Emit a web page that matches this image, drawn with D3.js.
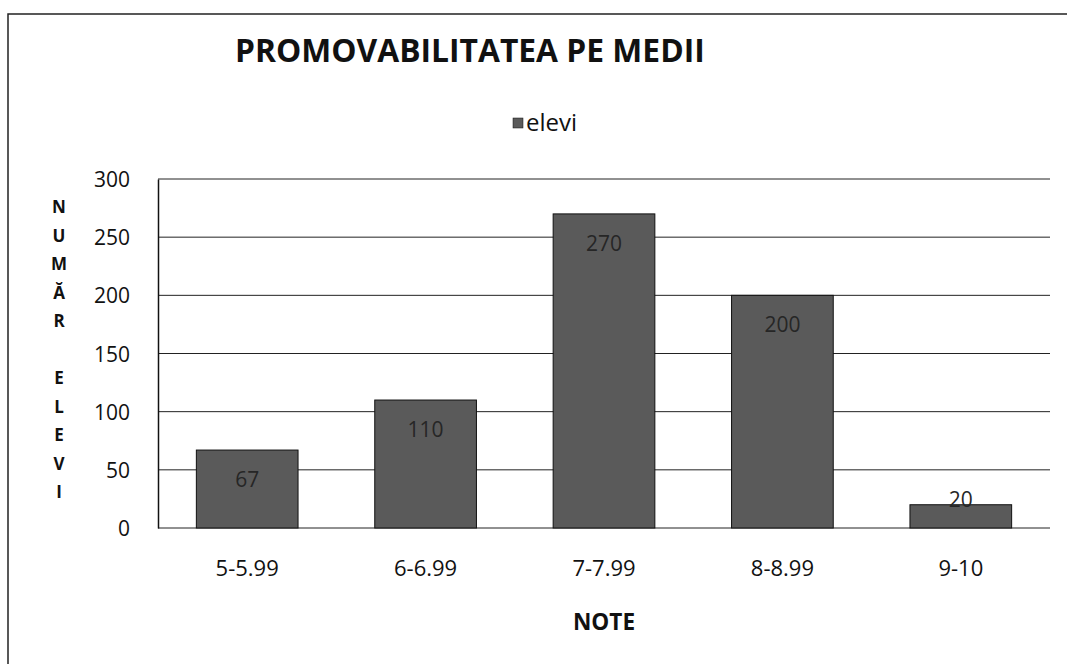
<!DOCTYPE html>
<html>
<head>
<meta charset="utf-8">
<script src="https://cdn.jsdelivr.net/npm/d3@7"></script>
<style>
  body { margin: 0; background: #fff; }
  text { font-family: "Open Sans", "Noto Sans", sans-serif; }
</style>
</head>
<body>
<div id="chart"></div>
<script>
/* Data */
const categories = ["5-5.99", "6-6.99", "7-7.99", "8-8.99", "9-10"];
const elevi = [67, 110, 270, 200, 20];
const yTicks = [0, 50, 100, 150, 200, 250, 300];
const yTitle = ["N", "U", "M", "Ă", "R", "", "E", "L", "E", "V", "I"];

/* Dimensions */
const width = 1067;
const height = 664;
const plot = { left: 158, right: 1050, top: 179, bottom: 528 };
const barColor = "#5a5a5a";

const svg = d3.select("#chart")
  .append("svg")
  .attr("width", width)
  .attr("height", height);

// scale a text's font size so it spans the wanted width
function fitWidth(sel, target) {
  const node = sel.node();
  const size = parseFloat(sel.style("font-size"));
  const w = node.getComputedTextLength();
  sel.style("font-size", (size * target / w).toFixed(1) + "px");
}

// outer frame (only top and left edges are visible in the scan)
svg.append("path")
  .attr("d", `M8,${height} L8,14 L${width},14`)
  .attr("fill", "none")
  .attr("stroke", "#222")
  .attr("stroke-width", 1.5);

/* Scales */
const x = d3.scaleBand()
  .domain(categories)
  .range([plot.left, plot.right])
  .paddingInner(0.43)
  .paddingOuter(0.215);

const y = d3.scaleLinear()
  .domain([0, 300])
  .range([plot.bottom, plot.top]);

// gridlines
svg.append("g")
  .selectAll("line")
  .data(yTicks)
  .enter()
  .append("line")
  .attr("x1", plot.left)
  .attr("x2", plot.right)
  .attr("y1", d => y(d))
  .attr("y2", d => y(d))
  .attr("stroke", "#222")
  .attr("stroke-width", 1);

// bars
svg.selectAll(".bar")
  .data(elevi)
  .enter()
  .append("rect")
  .attr("class", "bar")
  .attr("x", (d, i) => x(categories[i]))
  .attr("y", d => y(d))
  .attr("width", x.bandwidth())
  .attr("height", d => y(0) - y(d))
  .attr("fill", barColor)
  .attr("stroke", "#111")
  .attr("stroke-width", 1);

// data labels (inside end, pushed up when the bar is short)
svg.selectAll(".label")
  .data(elevi)
  .enter()
  .append("text")
  .attr("class", "label")
  .attr("x", (d, i) => x(categories[i]) + x.bandwidth() / 2)
  .attr("y", d => Math.min(y(d) + 37, y(0) - 21))
  .attr("text-anchor", "middle")
  .style("font-size", "21px")
  .style("fill", "#262626")
  .text(d => d);

/* Axes */
const yAxis = svg.append("g")
  .attr("transform", `translate(${plot.left},0)`)
  .call(d3.axisLeft(y).tickValues(yTicks).tickSize(0).tickPadding(28));
yAxis.select(".domain").attr("stroke", "#111").attr("stroke-width", 1.5);
yAxis.selectAll("text")
  .attr("dy", "0.36em")
  .style("font-size", "21px")
  .style("fill", "#111")
  .style("font-family", "'Open Sans', sans-serif");

const xAxis = svg.append("g")
  .attr("transform", `translate(0,${plot.bottom})`)
  .call(d3.axisBottom(x).tickSize(0).tickPadding(32));
xAxis.select(".domain").remove();
xAxis.selectAll("text")
  .attr("dy", "0.71em")
  .style("font-size", "22px")
  .style("fill", "#111")
  .style("font-family", "'Open Sans', sans-serif");

// Y title, stacked letters
svg.append("text")
  .attr("text-anchor", "middle")
  .style("font-size", "17px")
  .style("font-weight", "bold")
  .style("fill", "#111")
  .selectAll("tspan")
  .data(yTitle)
  .enter()
  .append("tspan")
  .attr("x", 59)
  .attr("y", (d, i) => 213 + i * 28.5)
  .text(d => d);

// X title
const xTitle = svg.append("text")
  .attr("x", (plot.left + plot.right) / 2)
  .attr("y", 630)
  .attr("text-anchor", "middle")
  .style("font-size", "20px")
  .style("font-weight", "bold")
  .style("fill", "#111")
  .text("NOTE");
fitWidth(xTitle, 62);

// Title
const title = svg.append("text")
  .attr("x", 235)
  .attr("y", 62)
  .style("font-size", "28px")
  .style("font-weight", "bold")
  .style("fill", "#111")
  .text("PROMOVABILITATEA PE MEDII");
fitWidth(title, 470);

// Legend
svg.append("rect")
  .attr("x", 513)
  .attr("y", 118)
  .attr("width", 10)
  .attr("height", 10)
  .attr("fill", barColor)
  .attr("stroke", "#111")
  .attr("stroke-width", 0.5);
const legendText = svg.append("text")
  .attr("x", 526)
  .attr("y", 131)
  .style("font-size", "20px")
  .style("fill", "#111")
  .text("elevi");
fitWidth(legendText, 51);
</script>
</body>
</html>
